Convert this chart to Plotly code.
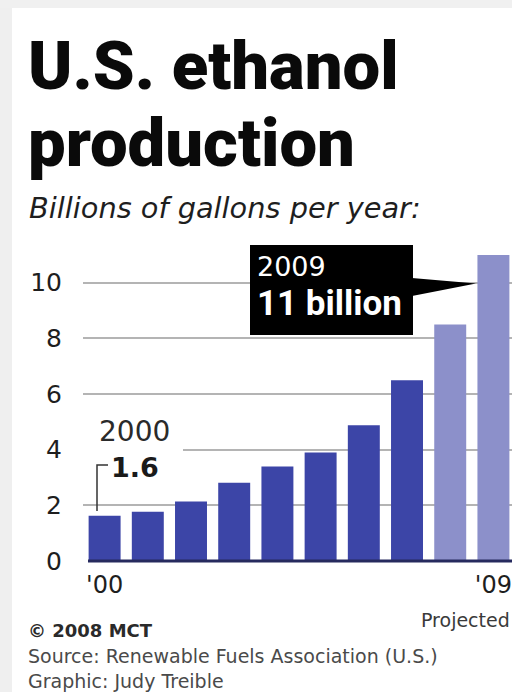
import plotly.graph_objects as go

# ---- data ----
years = ["2000", "2001", "2002", "2003", "2004", "2005", "2006", "2007", "2008", "2009"]
production = [1.63, 1.77, 2.14, 2.81, 3.40, 3.90, 4.88, 6.50, 8.50, 11.0]
projected = [False, False, False, False, False, False, False, False, True, True]
x_tick_vals = [0, 9]
x_tick_text = ["'00", "'09"]
y_tick_vals = [0, 2, 4, 6, 8, 10]

DARK = "#3c45a7"
LIGHT = "#8c90ca"

W, H = 512, 692
L, R, T, B = 83, 0, 241, 131
PLOT_W = W - L - R
PLOT_H = H - T - B
XR = [-0.5, 9.43]
YR = [0, 11.5]

def PX(X):  # pixel -> paper x
    return (X - L) / PLOT_W

def PY(Y):  # pixel -> paper y
    return (H - B - Y) / PLOT_H

def DX(X):  # pixel -> data x
    return XR[0] + (X - L) / PLOT_W * (XR[1] - XR[0])

def DY(Y):  # pixel -> data y
    return YR[0] + (H - B - Y) / PLOT_H * (YR[1] - YR[0])

xs = list(range(len(years)))
colors = [LIGHT if p else DARK for p in projected]

fig = go.Figure(go.Bar(
    x=xs, y=production, marker=dict(color=colors, line=dict(width=0)),
    width=0.74, hoverinfo="skip",
))

SANS = "DejaVu Sans, Liberation Sans, Arial, sans-serif"
BOLDC = "Roboto, Liberation Sans, Arial, sans-serif"

fig.update_layout(
    width=W, height=H,
    margin=dict(l=L, r=R, t=T, b=B, pad=0),
    paper_bgcolor="white", plot_bgcolor="white",
    showlegend=False,
    template="none",
    xaxis=dict(range=XR, tickvals=x_tick_vals, ticktext=x_tick_text,
               showgrid=False, zeroline=False, showline=False, ticks="",
               tickfont=dict(family=SANS, size=24, color="#1e1e1e"),
               ticklabelstandoff=7, automargin=False, fixedrange=True),
    yaxis=dict(range=YR, tickvals=y_tick_vals, showgrid=True,
               gridcolor="#b4b4b4", gridwidth=2, zeroline=False, showline=False,
               ticks="", tickfont=dict(family=SANS, size=25, color="#1e1e1e"),
               ticklabelstandoff=20, automargin=False, fixedrange=True),
)

shapes = []
# frame shadow strips
shapes.append(dict(type="rect", xref="paper", yref="paper", x0=PX(0), x1=PX(12), y0=PY(H), y1=PY(0),
                   fillcolor="#efefef", line=dict(width=0), layer="below"))
shapes.append(dict(type="rect", xref="paper", yref="paper", x0=PX(0), x1=PX(W), y0=PY(8), y1=PY(0),
                   fillcolor="#f0f0f0", line=dict(width=0), layer="below"))
# knockout behind the 2000 label
shapes.append(dict(type="rect", xref="x", yref="y", x0=DX(83), x1=DX(183), y0=DY(458), y1=DY(440),
                   fillcolor="white", line=dict(width=0), layer="between"))
# baseline
shapes.append(dict(type="line", xref="paper", yref="paper", x0=PX(88), x1=PX(W), y0=PY(561), y1=PY(561),
                   line=dict(color="#262a5e", width=3), layer="above"))
# 2009 callout box and pointer
shapes.append(dict(type="rect", xref="paper", yref="paper", x0=PX(250), x1=PX(413), y0=PY(335), y1=PY(245),
                   fillcolor="black", line=dict(width=0), layer="above"))
shapes.append(dict(type="path", xref="paper", yref="paper",
                   path=f"M {PX(412)} {PY(278)} L {PX(476)} {PY(283.5)} L {PX(412)} {PY(296)} Z",
                   fillcolor="black", line=dict(width=0), layer="above"))
# 2000 bracket
shapes.append(dict(type="path", xref="paper", yref="paper",
                   path=f"M {PX(97)} {PY(511)} L {PX(97)} {PY(465)} L {PX(108)} {PY(465)}",
                   line=dict(color="#333333", width=1.5), layer="above"))
fig.update_layout(shapes=shapes)

def ann(text, X, Y, size, family=SANS, color="#1a1a1a", weight="normal", style="normal", xanchor="left"):
    fig.add_annotation(text=text, xref="paper", yref="paper", x=PX(X), y=PY(Y),
                       xanchor=xanchor, yanchor="middle", showarrow=False, align="left",
                       font=dict(family=family, size=size, color=color, weight=weight, style=style),
                       borderpad=0)

ann("U.S. ethanol", 27, 66, 67, family=BOLDC, color="#0a0a0a", weight=900)
ann("production", 27, 143, 67, family=BOLDC, color="#0a0a0a", weight=900)
ann("Billions of gallons per year:", 28, 208, 28.8, style="italic", color="#1e1e1e")

ann("2000", 98, 431, 28, color="#2a2a2a")
ann("1.6", 110, 467, 27, color="#1a1a1a", weight="bold")

ann("2009", 256, 266, 27, color="white")
ann("11 billion", 256, 303, 35, family=BOLDC, color="white", weight="bold")

ann("Projected", 511, 620, 19, color="#3a3a3a", xanchor="right")

ann("© 2008 MCT", 27, 630, 18, color="#2a2a2a", weight="bold")
ann("Source: Renewable Fuels Association (U.S.)<br>Graphic: Judy Treible", 27, 668.5, 19, color="#4a4a4a")

fig.write_html("out.html", config={"displayModeBar": False},
               post_script="document.body.style.margin='0';document.body.style.overflow='hidden';")
